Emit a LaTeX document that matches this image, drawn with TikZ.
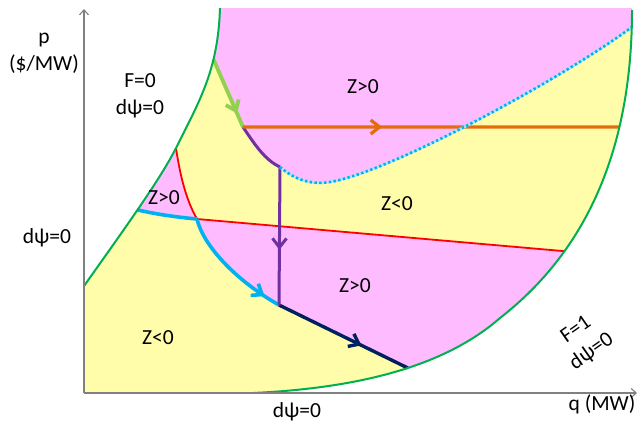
\documentclass[tikz,border=0pt]{standalone}
\usepackage{fontspec}
\setmainfont{Carlito}
\usetikzlibrary{arrows.meta,decorations.markings,intersections}
\definecolor{pinkf}{HTML}{FFBBFF}
\definecolor{yellowf}{HTML}{FFFCAA}
\definecolor{bgreen}{HTML}{00B050}
\definecolor{lgreen}{HTML}{92D050}
\definecolor{cyanl}{HTML}{00B0F0}
\definecolor{navyl}{HTML}{002060}
\definecolor{purpl}{HTML}{7030A0}
\definecolor{orangel}{HTML}{E46C0A}
\definecolor{axisc}{HTML}{808080}
\begin{document}
\begin{tikzpicture}[x=1pt,y=-1pt,
  lbl/.style={font=\fontsize{21.5}{27}\selectfont, align=center, inner sep=0pt},
  midarrow/.style={postaction={decorate},decoration={markings,
     mark=at position #1 with {\arrow{Straight Barb[length=9pt,width=14pt]}}}},
  bound/.style={bgreen, line width=2pt},
  axisline/.style={axisc, line width=1.1pt, -{Straight Barb[length=5pt,width=9pt]}}]
\useasboundingbox (0,0) rectangle (639,426);

% ---- key points on the boundaries ----
\path (220,8) .. controls (218,70) and (200,100) .. coordinate[pos=0.32] (gA) (176,148);
\coordinate (rS) at (176,148);
\path (176,148) .. controls (160,180) and (120,235) .. coordinate[pos=0.5] (cH) (84,286);
\path[name path=rg] (253,393) .. controls (360,388) and (445,366) .. (500,318)
   .. controls (568,265) and (632,175) .. (632,10);
\path[name path=redl] (197,219) -- (640,257.8);
\path[name path=orl] (243,127) -- (660,127);
\path[name path=nvl] (279,305) -- (450,388.6);
\path[name intersections={of=rg and redl, by=rE}];
\path[name intersections={of=rg and orl, by=oE}];
\path[name intersections={of=rg and nvl, by=nF}];
\coordinate (gB) at (243,127);
\coordinate (pC) at (280,167);
\coordinate (pD) at (279,305);
\coordinate (cG) at (197,219);

% ---- fills, clipped to the feasible region ----
\begin{scope}
\clip (84,286) -- (84,393) -- (253,393)
  .. controls (360,388) and (445,366) .. (500,318)
  .. controls (568,265) and (632,175) .. (632,10)
  -- (632,8) -- (220,8)
  .. controls (218,70) and (200,100) .. (176,148)
  .. controls (160,180) and (120,235) .. (84,286) -- cycle;
\fill[yellowf] (0,0) rectangle (639,426);
% upper pink
\fill[pinkf] (gA) -- (gB)
  .. controls (255,145) and (265,160) .. (pC)
  .. controls (295,180) and (312,185) .. (330,182)
  .. controls (390,172) and (560,80) .. (632,27)
  -- (645,26) -- (645,0) -- (gA |- 0,0) -- cycle;
% small left pink
\fill[pinkf] (rS) .. controls (180,175) and (186,200) .. (cG)
  .. controls (175,217) and (155,214) .. (cH)
  -- (100,210) -- (150,120) -- cycle;
% lower pink
\fill[pinkf] (cG) -- (rE) -- (645,260) -- (645,400) -- (430,400) -- (nF) -- (pD)
  .. controls (235,280) and (203,245) .. (cG) -- cycle;
\end{scope}

% ---- red boundary ----
\draw[red, line width=1.8pt] (rS) .. controls (180,175) and (186,200) .. (cG) -- (rE);

% ---- trajectories ----
\draw[cyanl, line width=3.6pt] (cH) .. controls (155,214) and (175,217) .. (cG);
\draw[cyanl, line width=3.6pt, midarrow=0.86] (cG) .. controls (203,245) and (235,280) .. (pD);
\draw[navyl, line width=3.4pt, midarrow=0.64] (pD) -- (nF);
\draw[purpl, line width=3pt] (gB) .. controls (255,145) and (265,160) .. (pC);
\draw[purpl, line width=3pt, midarrow=0.6] (pC) -- (pD);
\draw[lgreen, line width=3.8pt, midarrow=0.8] (gA) -- (gB);
\draw[orangel, line width=3.2pt, midarrow=0.37] (gB) -- (oE);

% dotted Z=0 boundary
\draw[white!70!cyanl, line width=2.6pt] (pC) .. controls (295,180) and (312,185) .. (330,182)
  .. controls (390,172) and (560,80) .. (632,27);
\draw[cyanl, line width=2.6pt, dash pattern=on 2.4pt off 2.4pt] (pC) .. controls (295,180) and (312,185) .. (330,182)
  .. controls (390,172) and (560,80) .. (632,27);

% ---- green boundaries ----
\draw[bound] (220,8) .. controls (218,70) and (200,100) .. (176,148)
  .. controls (160,180) and (120,235) .. (84,286);
\draw[bound] (253,393) .. controls (360,388) and (445,366) .. (500,318)
   .. controls (568,265) and (632,175) .. (632,10);

% ---- axes ----
\coordinate (O) at (84,393);
\coordinate (Ytop) at (84,9);
\coordinate (Xend) at (637,393);
\draw[axisline] (O) -- (Ytop);
\draw[axisline] (O) -- (Xend);

% ---- labels ----
\node[lbl] (lp) at (44,53) {p\\(\$/MW)};
\node[lbl] (lf0) at (140,96) {F=0\\dψ=0};
\node[lbl] (lz1) at (363,87) {Z>0};
\node[lbl] (lz2) at (397,204) {Z<0};
\node[lbl] (lz3) at (164,198) {Z>0};
\node[lbl] (lz4) at (355,286) {Z>0};
\node[lbl] (lz5) at (158,338) {Z<0};
\node[lbl] (ld1) at (47,238) {dψ=0};
\node[lbl] (ld2) at (297,412) {dψ=0};
\node[lbl] (lq) at (602,404) {q (MW)};
\node[lbl, rotate=35] (lf1) at (584,341) {F=1\\dψ=0};
\end{tikzpicture}
\end{document}
